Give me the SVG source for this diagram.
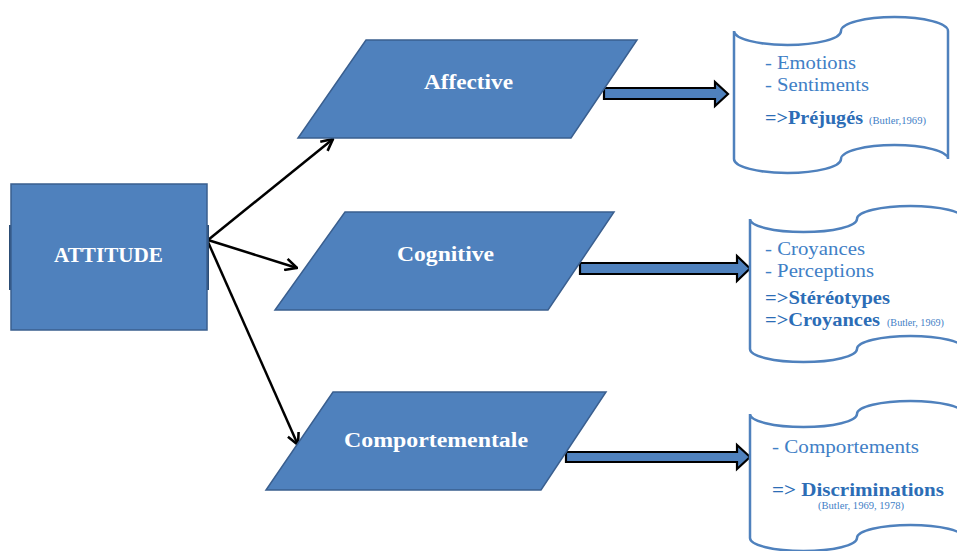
<svg xmlns="http://www.w3.org/2000/svg" width="957" height="551" viewBox="0 0 957 551">
<style>
.shape{fill:#4f81bd;stroke:#3a5f8f;stroke-width:1.5}
.lbl{font-family:"Liberation Serif","Times New Roman",serif;font-weight:bold;fill:#ffffff;font-size:20px}
.block{fill:#4f81bd;stroke:#000;stroke-width:2.2;stroke-linejoin:miter}
.scroll{fill:#fff;stroke:#4f81bd;stroke-width:2.5}
.t{font-family:"Liberation Serif","Times New Roman",serif;font-size:19px;fill:#3f80c6}
.b{font-family:"Liberation Serif","Times New Roman",serif;font-size:19px;font-weight:bold;fill:#2c6db6}
.s{font-family:"Liberation Serif","Times New Roman",serif;font-size:10px;fill:#3f80c6}
.conn{stroke:#000;stroke-width:2.5;fill:none}
</style>
<defs>
<marker id="arr" markerUnits="userSpaceOnUse" markerWidth="14" markerHeight="14" viewBox="0 0 12 12" refX="11" refY="6" orient="auto">
<path d="M1,1 L11,6 L1,11" fill="none" stroke="#000" stroke-width="2.2"/>
</marker>
</defs>

<g id="connectors">
<line class="conn" x1="208" y1="240" x2="333" y2="139" marker-end="url(#arr)"/>
<line class="conn" x1="208" y1="240" x2="297" y2="268" marker-end="url(#arr)"/>
<line class="conn" x1="208" y1="242" x2="298" y2="445" marker-end="url(#arr)"/>
<polygon class="block" points="604,88 715,88 715,82 728,94 715,106 715,99 604,99"/>
<polygon class="block" points="580,263 737,263 737,256 750,268.5 737,281 737,274 580,274"/>
<polygon class="block" points="566,452 737,452 737,445 750,457 737,469 737,462 566,462"/>
</g>

<g id="attitude">
<rect x="9" y="225" width="4" height="65" fill="#2c4d75"/>
<rect x="205" y="225" width="4" height="65" fill="#2c4d75"/>
<rect class="shape" x="11" y="184" width="196" height="146" stroke-width="1"/>
<text class="lbl" x="54" y="262" font-size="19" textLength="109" lengthAdjust="spacingAndGlyphs">ATTITUDE</text>
</g>

<g id="affective">
<polygon class="shape" points="366,40 637,40 571,138 298,138"/>
<text class="lbl" x="424" y="89" textLength="89" lengthAdjust="spacingAndGlyphs">Affective</text>
</g>

<g id="cognitive">
<polygon class="shape" points="345,212 614,212 548,310 275,310"/>
<text class="lbl" x="397" y="261" textLength="97" lengthAdjust="spacingAndGlyphs">Cognitive</text>
</g>

<g id="comportementale">
<polygon class="shape" points="333,392 606,392 541,490 266,490"/>
<text class="lbl" x="344" y="447" textLength="184" lengthAdjust="spacingAndGlyphs">Comportementale</text>
</g>

<g id="scroll-affective">
<path class="scroll" d="M734,31 A53.5,14 0 0 0 841,31 A53.5,14 0 0 1 948,31 L948,159 A53.5,14 0 0 0 841,159 A53.5,14 0 0 1 734,159 Z"/>
<text class="t" x="765" y="69" textLength="91" lengthAdjust="spacingAndGlyphs">- Emotions</text>
<text class="t" x="765" y="91" textLength="104" lengthAdjust="spacingAndGlyphs">- Sentiments</text>
<text class="b" x="765" y="124" textLength="98" lengthAdjust="spacingAndGlyphs">=&gt;Préjugés</text>
<text class="s" x="869" y="124" textLength="57" lengthAdjust="spacingAndGlyphs">(Butler,1969)</text>
</g>

<g id="scroll-cognitive">
<path class="scroll" d="M750,219 A53.5,13 0 0 0 857,219 A53.5,13 0 0 1 964,219 L964,349 A53.5,13 0 0 0 857,349 A53.5,13 0 0 1 750,349 Z"/>
<text class="t" x="765" y="255" textLength="100" lengthAdjust="spacingAndGlyphs">- Croyances</text>
<text class="t" x="765" y="277" textLength="109" lengthAdjust="spacingAndGlyphs">- Perceptions</text>
<text class="b" x="765" y="304" textLength="125" lengthAdjust="spacingAndGlyphs">=&gt;Stéréotypes</text>
<text class="b" x="765" y="326" textLength="115" lengthAdjust="spacingAndGlyphs">=&gt;Croyances</text>
<text class="s" x="887" y="326" textLength="57" lengthAdjust="spacingAndGlyphs">(Butler, 1969)</text>
</g>

<g id="scroll-comportementale">
<path class="scroll" d="M750,414 A53.5,13 0 0 0 857,414 A53.5,13 0 0 1 964,414 L964,538 A53.5,13 0 0 0 857,538 A53.5,13 0 0 1 750,538 Z"/>
<text class="t" x="772" y="453" textLength="147" lengthAdjust="spacingAndGlyphs">- Comportements</text>
<text class="b" x="772" y="496" textLength="172" lengthAdjust="spacingAndGlyphs">=&gt; Discriminations</text>
<text class="s" x="818" y="509" textLength="86" lengthAdjust="spacingAndGlyphs">(Butler, 1969, 1978)</text>
</g>
</svg>
